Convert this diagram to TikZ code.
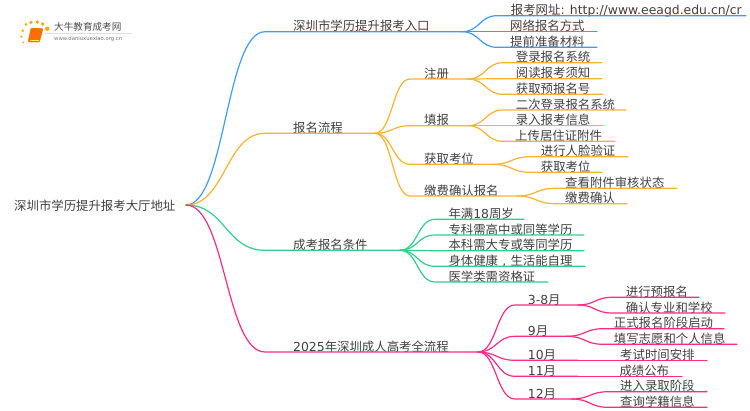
\documentclass[tikz,border=0pt]{standalone}
\usepackage{fontspec}
\setmainfont{DejaVu Sans}
\newfontfamily\cjk{Noto Sans CJK SC}
\newfontfamily\lat{DejaVu Sans}
\usetikzlibrary{calc}
\definecolor{wireblue}{HTML}{3D9BFF}
\definecolor{wireorange}{HTML}{FDB22F}
\definecolor{wiregreen}{HTML}{30D08C}
\definecolor{wirepink}{HTML}{FF2A82}
\definecolor{inktext}{HTML}{404040}
\tikzset{link/.style = {to path = {let \p1 = (\tikztostart), \p2 = (\tikztotarget), \n1 = {(\x1 + \x2)/2} in
                                   .. controls (\n1, \y1) and (\n1, \y2) .. (\tikztotarget)}}}
\tikzset{wire/.style = {line width = 1.2, line cap = round}}
\tikzset{bluewire/.style = {wire, draw = wireblue}}
\tikzset{orangewire/.style = {wire, draw = wireorange}}
\tikzset{greenwire/.style = {wire, draw = wiregreen}}
\tikzset{pinkwire/.style = {wire, draw = wirepink}}
\tikzset{lbl/.style = {anchor = base west, inner sep = 0, text = inktext, yshift = -1pt,
                       font = \cjk\fontsize{12.4}{14}\selectfont}}
\tikzset{sundot/.style = {fill = orange!70!yellow, circle, inner sep = 0}}
\begin{document}
\begin{tikzpicture}[x = 1pt, y = -1pt]
  \useasboundingbox (0, 0) rectangle (750, 410);
  % logo
  \foreach \dx/\dy/\ds in {26/24.3/3, 31/22.3/3.6, 37.3/22/3.8, 42.7/24/3.8, 47.3/28.7/4.4, 22.7/30.7/2.8, 21.3/36.7/2.4, 23.3/42.3/1.8}
    \node [sundot, minimum size = \ds] at (\dx, \dy) {};
  \draw [rounded corners = 1, fill = orange!85!red, draw = orange!90!red] (31, 28) -- (43, 28.5) -- (39.5, 42) -- (28, 42) -- cycle;
  \draw [line width = 0.8, yellow!60!white] (29.5, 40) -- (39, 40);
  \draw [gray!25, line width = 0.5] (45, 33) -- (132, 33);
  \node (logoname) [lbl, text = black!70, font = \cjk\fontsize{9.6}{11}\selectfont] at (54, 29) {大牛教育成考网};
  \node (logourl) [lbl, text = black!55, font = \lat\fontsize{5.3}{6}\selectfont] at (54, 39.5) {www.daniuxuexiao.org.cn};
  % root
  \node (root) [lbl] at (14, 209.5) {深圳市学历提升报考大厅地址};
  \coordinate (rootE) at (186, 205);
  % entry
  \node (entry) [lbl] at (293, 29.7) {深圳市学历提升报考入口};
  \draw [bluewire] (rootE) to [link] (265, 31.7) -- (462, 31.7) coordinate (entryE);
  \node (site) [lbl] at (510.7, 13) {报考网址{\lat: http://www.eeagd.edu.cn/cr}};
  \draw [bluewire] (entryE) to [link] (497, 15.7) -- (746, 15.7) coordinate (siteE);
  \node (online) [lbl] at (510, 29.7) {网络报名方式};
  \draw [bluewire] (entryE) to [link] (497, 31.7) -- (597, 31.7) coordinate (onlineE);
  \node (prep) [lbl] at (510, 45.3) {提前准备材料};
  \draw [bluewire] (entryE) to [link] (497, 47.3) -- (597, 47.3) coordinate (prepE);
  % flow
  \node (flow) [lbl] at (293, 131.3) {报名流程};
  \draw [orangewire] (rootE) to [link] (265, 133.3) -- (375, 133.3) coordinate (flowE);
  \node (reg) [lbl] at (424, 77) {注册};
  \draw [orangewire] (flowE) to [link] (410, 79) -- (468, 79) coordinate (regE);
  \node (regA) [lbl] at (515.7, 60.7) {登录报名系统};
  \draw [orangewire] (regE) to [link] (503, 62.7) -- (602, 62.7) coordinate (regAE);
  \node (regB) [lbl] at (515.7, 76.7) {阅读报考须知};
  \draw [orangewire] (regE) to [link] (503, 78.7) -- (602, 78.7) coordinate (regBE);
  \node (regC) [lbl] at (515.7, 92.3) {获取预报名号};
  \draw [orangewire] (regE) to [link] (503, 94.3) -- (603, 94.3) coordinate (regCE);
  \node (fill) [lbl] at (424, 123.7) {填报};
  \draw [orangewire] (flowE) to [link] (410, 125.7) -- (468, 125.7) coordinate (fillE);
  \node (fillA) [lbl] at (515.7, 108) {二次登录报名系统};
  \draw [orangewire] (fillE) to [link] (503, 110) -- (626, 110) coordinate (fillAE);
  \node (fillB) [lbl] at (515.7, 123.7) {录入报考信息};
  \draw [orangewire] (fillE) to [link] (503, 125.7) -- (603, 125.7) coordinate (fillBE);
  \node (fillC) [lbl] at (515, 139.3) {上传居住证附件};
  \draw [orangewire] (fillE) to [link] (503, 141.3) -- (615, 141.3) coordinate (fillCE);
  \node (seat) [lbl] at (424, 162.3) {获取考位};
  \draw [orangewire] (flowE) to [link] (410, 164.3) -- (493, 164.3) coordinate (seatE);
  \node (seatA) [lbl] at (540.7, 154.7) {进行人脸验证};
  \draw [orangewire] (seatE) to [link] (530, 156.7) -- (628, 156.7) coordinate (seatAE);
  \node (seatB) [lbl] at (540.7, 170.3) {获取考位};
  \draw [orangewire] (seatE) to [link] (530, 172.3) -- (602, 172.3) coordinate (seatBE);
  \node (pay) [lbl] at (424, 194) {缴费确认报名};
  \draw [orangewire] (flowE) to [link] (410, 196) -- (517, 196) coordinate (payE);
  \node (payA) [lbl] at (565, 186.3) {查看附件审核状态};
  \draw [orangewire] (payE) to [link] (555, 188.3) -- (677, 188.3) coordinate (payAE);
  \node (payB) [lbl] at (565, 201.7) {缴费确认};
  \draw [orangewire] (payE) to [link] (555, 203.7) -- (627, 203.7) coordinate (payBE);
  % conditions
  \node (cond) [lbl] at (293, 248.3) {成考报名条件};
  \draw [greenwire] (rootE) to [link] (265, 250.3) -- (400, 250.3) coordinate (condE);
  \node (condA) [lbl] at (448.3, 217.3) {年满{\lat 18}周岁};
  \draw [greenwire] (condE) to [link] (435, 219.3) -- (524, 219.3) coordinate (condAE);
  \node (condB) [lbl] at (448.3, 233) {专科需高中或同等学历};
  \draw [greenwire] (condE) to [link] (435, 235) -- (584, 235) coordinate (condBE);
  \node (condC) [lbl] at (448.3, 248.7) {本科需大专或等同学历};
  \draw [greenwire] (condE) to [link] (435, 250.7) -- (584, 250.7) coordinate (condCE);
  \node (condD) [lbl] at (448.3, 264.3) {身体健康\makebox[12.4pt]{\lat ,}生活能自理};
  \draw [greenwire] (condE) to [link] (435, 266.3) -- (585, 266.3) coordinate (condDE);
  \node (condF) [lbl] at (448.3, 280) {医学类需资格证};
  \draw [greenwire] (condE) to [link] (435, 282) -- (548, 282) coordinate (condFE);
  % schedule
  \node (year) [lbl] at (293, 350) {{\lat 2025}年深圳成人高考全流程};
  \draw [pinkwire] (rootE) to [link] (265, 352) -- (478, 352) coordinate (yearE);
  \node (mar) [lbl] at (527.7, 303) {{\lat 3-8}月};
  \draw [pinkwire] (yearE) to [link] (515, 305) -- (578, 305) coordinate (marE);
  \node (marA) [lbl] at (625.7, 295.3) {进行预报名};
  \draw [pinkwire] (marE) to [link] (612, 297.3) -- (699, 297.3) coordinate (marAE);
  \node (marB) [lbl] at (625.7, 311) {确认专业和学校};
  \draw [pinkwire] (marE) to [link] (612, 313) -- (725, 313) coordinate (marBE);
  \node (sep) [lbl] at (527.7, 334.3) {{\lat 9}月};
  \draw [pinkwire] (yearE) to [link] (515, 336.3) -- (567, 336.3) coordinate (sepE);
  \node (sepA) [lbl] at (613.7, 326.7) {正式报名阶段启动};
  \draw [pinkwire] (sepE) to [link] (603, 328.7) -- (724, 328.7) coordinate (sepAE);
  \node (sepB) [lbl] at (613.7, 342.3) {填写志愿和个人信息};
  \draw [pinkwire] (sepE) to [link] (603, 344.3) -- (737, 344.3) coordinate (sepBE);
  \node (oct) [lbl] at (527.7, 358.3) {{\lat 10}月};
  \draw [pinkwire] (yearE) to [link] (515, 360.3) -- (578, 360.3) coordinate (octE);
  \node (octA) [lbl] at (620, 358.3) {考试时间安排};
  \draw [pinkwire] (octE) -- (707, 360.3) coordinate (octAE);
  \node (nov) [lbl] at (527.7, 374.3) {{\lat 11}月};
  \draw [pinkwire] (yearE) to [link] (515, 376.3) -- (578, 376.3) coordinate (novE);
  \node (novA) [lbl] at (619.3, 374.3) {成绩公布};
  \draw [pinkwire] (novE) -- (682, 376.3) coordinate (novAE);
  \node (dec) [lbl] at (527.7, 397) {{\lat 12}月};
  \draw [pinkwire] (yearE) to [link] (515, 399) -- (572, 399) coordinate (decE);
  \node (decA) [lbl] at (620, 389.7) {进入录取阶段};
  \draw [pinkwire] (decE) to [link] (608, 391.7) -- (707, 391.7) coordinate (decAE);
  \node (decB) [lbl] at (620, 405.3) {查询学籍信息};
  \draw [pinkwire] (decE) to [link] (608, 407.3) -- (707, 407.3) coordinate (decBE);
\end{tikzpicture}
\end{document}
